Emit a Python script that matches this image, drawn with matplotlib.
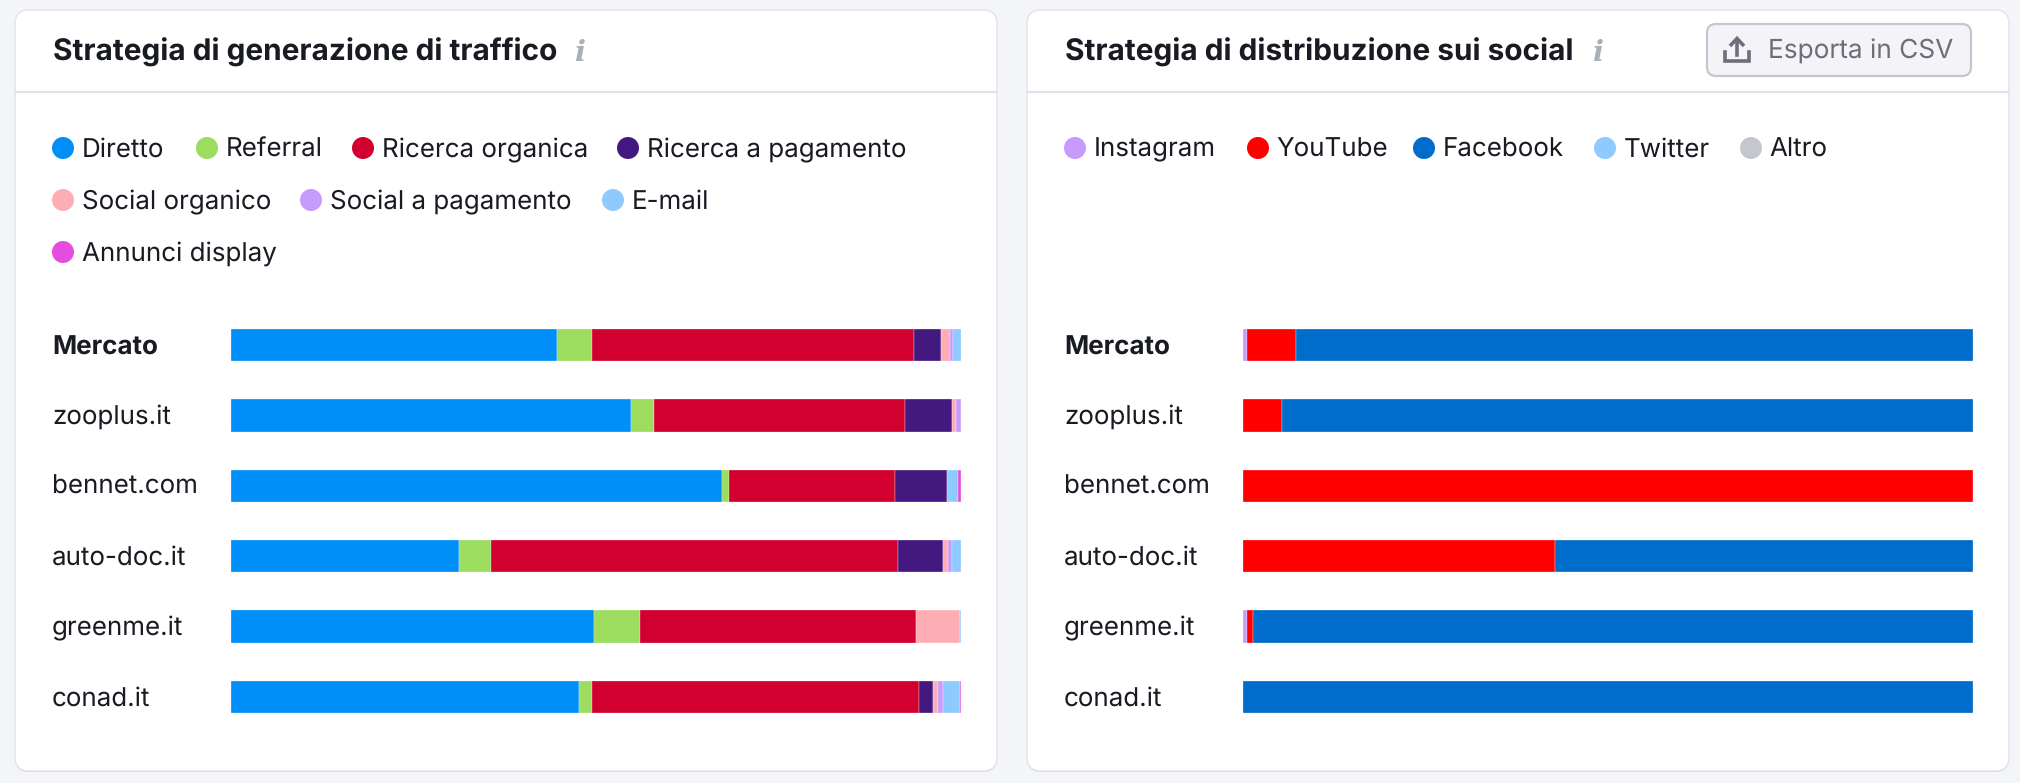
import matplotlib
matplotlib.use("Agg")
import matplotlib.pyplot as plt
from matplotlib.patches import Circle, FancyBboxPatch, Polygon
from matplotlib.transforms import ScaledTranslation
import numpy as np

plt.rcParams['font.family'] = ['Inter', 'DejaVu Sans']
plt.rcParams['text.hinting'] = 'no_hinting'
plt.rcParams['text.hinting_factor'] = 1

LARGHEZZA, ALTEZZA = 2020, 783

# dati
siti = ['Mercato', 'zooplus.it', 'bennet.com', 'auto-doc.it', 'greenme.it', 'conad.it']

traffico_nomi = ['Diretto', 'Referral', 'Ricerca organica', 'Ricerca a pagamento',
                 'Social organico', 'Social a pagamento', 'E-mail', 'Annunci display']
traffico_colori = ['#008ff8', '#9cdc5f', '#d1002f', '#43197f',
                   '#ffadb5', '#c69bfd', '#8fcaff', '#e44ddf']
diretto = [44.6, 54.8, 67.2, 31.3, 49.7, 47.7]
referral = [4.8, 3.2, 1.0, 4.3, 6.3, 1.8]
organica = [44.1, 34.3, 22.8, 55.8, 37.9, 44.8]
pagamento = [3.8, 6.4, 7.1, 6.2, 0.0, 1.9]
social_org = [1.15, 0.6, 0.0, 0.6, 5.95, 0.7]
social_pag = [0.45, 0.7, 0.0, 0.6, 0.0, 0.6]
email = [1.1, 0.0, 1.5, 1.2, 0.15, 2.3]
display = [0.0, 0.0, 0.4, 0.0, 0.0, 0.2]
traffico = [diretto, referral, organica, pagamento, social_org, social_pag, email, display]

social_nomi = ['Instagram', 'YouTube', 'Facebook', 'Twitter', 'Altro']
social_colori = ['#c69bfd', '#ff0000', '#006dca', '#8fcaff', '#c4c7cf']
instagram = [0.6, 0.0, 0.0, 0.0, 0.6, 0.0]
youtube = [6.7, 5.3, 100.0, 42.8, 0.8, 0.0]
facebook = [92.7, 94.7, 0.0, 57.2, 98.6, 100.0]
twitter = [0.0, 0.0, 0.0, 0.0, 0.0, 0.0]
altro = [0.0, 0.0, 0.0, 0.0, 0.0, 0.0]
distribuzione = [instagram, youtube, facebook, twitter, altro]

TESTO = '#191b23'
BORDO = '#e0e1e9'
FONDO = '#f4f5f9'


def asse_barre(x0, x1, serie, colori):
    y0, y1 = 309.8, 732.2
    ax = fig.add_axes([x0 / LARGHEZZA, 1 - y1 / ALTEZZA, (x1 - x0) / LARGHEZZA, (y1 - y0) / ALTEZZA])
    ax.patch.set_alpha(0)
    pos = np.arange(len(siti))
    sinistra = np.zeros(len(siti))
    for valori, colore in zip(serie, colori):
        mask = np.array(valori) > 0
        ax.barh(pos[mask], np.array(valori)[mask], left=sinistra[mask], height=0.458,
                color=colore, edgecolor='white', linewidth=0.2)
        sinistra += np.array(valori)
    ax.set_xlim(0, 100)
    ax.set_ylim(5.5, -0.5)
    ax.set_xticks([])
    ax.set_yticks(pos)
    ax.set_yticklabels(siti, fontsize=18.7, color=TESTO, ha='left', va='center_baseline')
    ax.tick_params(axis='y', length=0, pad=179 * 0.72)
    ax.get_yticklabels()[0].set_fontweight('bold')
    # etichette un pixel piu in alto, tranne la prima
    su = ScaledTranslation(0, 1.2 / 100, fig.dpi_scale_trans)
    for lab in ax.get_yticklabels()[1:]:
        lab.set_transform(lab.get_transform() + su)
    for s in ax.spines.values():
        s.set_visible(False)
    return ax


def scheda(sfondo, x0, x1, titolo, x_info):
    # ombra sotto la scheda
    sfondo.add_patch(FancyBboxPatch((x0 + 12, 23), x1 - x0 - 24, 737,
                                    boxstyle='round,pad=12,rounding_size=14',
                                    fc='#d6d7df', ec='none'))
    sfondo.add_patch(FancyBboxPatch((x0 + 12, 22), x1 - x0 - 24, 737,
                                    boxstyle='round,pad=12,rounding_size=14',
                                    fc='white', ec=BORDO, lw=0.9))
    sfondo.plot([x0, x1], [92, 92], color=BORDO, lw=1.6, solid_capstyle='butt')
    sfondo.text(x0 + 38, 49.5, titolo, fontsize=21.45, fontweight='bold', color=TESTO,
                va='center_baseline')
    sfondo.text(x_info, 50, 'i', fontsize=21, family='DejaVu Serif', style='italic',
                fontweight='bold', color='#a8b1b8', ha='center', va='center_baseline')


def legenda(sfondo, nomi, colori, xs_pallini, righe):
    for nome, colore, xp, yp in zip(nomi, colori, xs_pallini, righe):
        sfondo.add_patch(Circle((xp, yp), 11, fc=colore, ec='none'))
        sfondo.text(xp + 18.7, yp - 0.8, nome, fontsize=18.7, color=TESTO, va='center_baseline')


fig = plt.figure(figsize=(LARGHEZZA / 100, ALTEZZA / 100), dpi=100, facecolor=FONDO)
sfondo = fig.add_axes([0, 0, 1, 1])
sfondo.set_xlim(0, LARGHEZZA)
sfondo.set_ylim(ALTEZZA, 0)
sfondo.axis('off')

scheda(sfondo, 15, 997, 'Strategia di generazione di traffico', 580)
scheda(sfondo, 1027, 2009, 'Strategia di distribuzione sui social', 1598)

legenda(sfondo, traffico_nomi, traffico_colori,
        [63, 207, 363, 628, 63, 311, 613, 63],
        [148, 148, 148, 148, 200, 200, 200, 252])
legenda(sfondo, social_nomi, social_colori,
        [1075, 1258, 1424, 1605, 1751], [148] * 5)

# bottone esporta
sfondo.add_patch(FancyBboxPatch((1715, 32), 248, 36, boxstyle='round,pad=8,rounding_size=9',
                                fc='#f4f4f8', ec='#c4c7cf', lw=1.6))
sfondo.text(1768, 49, 'Esporta in CSV', fontsize=18.9, color='#6c6e79', va='center_baseline')
grigio = '#6c6e79'
sfondo.plot([1725, 1725, 1749, 1749], [52, 61, 61, 52], color=grigio, lw=2.6, solid_joinstyle='miter')
sfondo.plot([1737, 1737], [42, 55], color=grigio, lw=2.6)
sfondo.add_patch(Polygon([[1730, 46], [1737, 38.5], [1744, 46]], closed=False, fill=False, ec=grigio, lw=2.6))

asse_barre(231, 961, traffico, traffico_colori)
asse_barre(1243, 1973, distribuzione, social_colori)

fig.savefig('out.png', dpi=100, facecolor=FONDO)
